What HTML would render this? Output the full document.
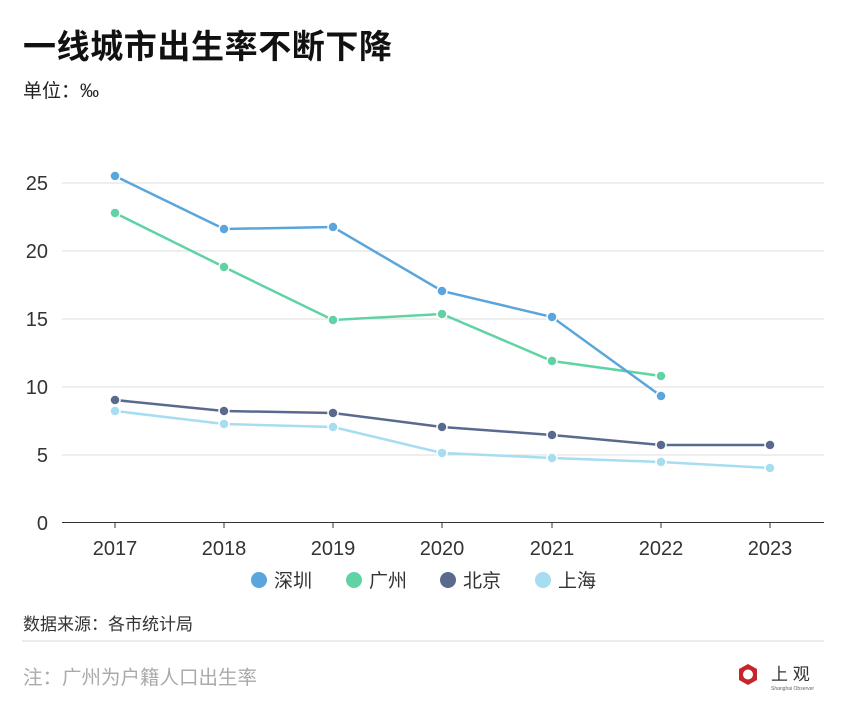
<!DOCTYPE html>
<html><head><meta charset="utf-8"><style>
body{margin:0;background:#fff;width:847px;height:720px;overflow:hidden;font-family:"Liberation Sans","Noto Sans CJK SC",sans-serif}
</style></head><body>
<svg width="847" height="720" xmlns="http://www.w3.org/2000/svg" font-family="Liberation Sans, Noto Sans CJK SC, sans-serif">
<text x="23" y="58" font-size="33" font-weight="bold" fill="#111" letter-spacing="0.6">一线城市出生率不断下降</text>
<text x="23" y="97" font-size="19" fill="#222">单位：‰</text>
<g stroke="#dcdcdc" stroke-width="1">
<line x1="62" x2="824" y1="183" y2="183"/><line x1="62" x2="824" y1="251" y2="251"/><line x1="62" x2="824" y1="319" y2="319"/><line x1="62" x2="824" y1="387" y2="387"/><line x1="62" x2="824" y1="455" y2="455"/>
</g>
<line x1="62" x2="824" y1="522.5" y2="522.5" stroke="#333" stroke-width="1"/>
<g stroke="#333"><line x1="115" x2="115" y1="522" y2="528"/><line x1="224" x2="224" y1="522" y2="528"/><line x1="333" x2="333" y1="522" y2="528"/><line x1="442" x2="442" y1="522" y2="528"/><line x1="552" x2="552" y1="522" y2="528"/><line x1="661" x2="661" y1="522" y2="528"/><line x1="770" x2="770" y1="522" y2="528"/></g>
<g font-size="20" fill="#333" text-anchor="end">
<text x="48" y="190">25</text><text x="48" y="258">20</text><text x="48" y="326">15</text><text x="48" y="394">10</text><text x="48" y="462">5</text><text x="48" y="530">0</text>
</g>
<g font-size="20" fill="#333" text-anchor="middle">
<text x="115" y="555">2017</text><text x="224" y="555">2018</text><text x="333" y="555">2019</text><text x="442" y="555">2020</text><text x="552" y="555">2021</text><text x="661" y="555">2022</text><text x="770" y="555">2023</text>
</g>
<g fill="none" stroke-width="2.5">
<polyline stroke="#a6ddf0" points="115,411 224,424 333,427 442,453 552,458 661,462 770,468"/>
<polyline stroke="#5a6a8e" points="115,400 224,411 333,413 442,427 552,435 661,445 770,445"/>
<polyline stroke="#5fd3a4" points="115,213 224,267 333,320 442,314 552,361 661,376"/>
<polyline stroke="#5aa5dc" points="115,176 224,229 333,227 442,291 552,317 661,396"/>
</g>
<g stroke="#fff" stroke-width="1.5">
<g fill="#a6ddf0"><circle cx="115" cy="411" r="5"/><circle cx="224" cy="424" r="5"/><circle cx="333" cy="427" r="5"/><circle cx="442" cy="453" r="5"/><circle cx="552" cy="458" r="5"/><circle cx="661" cy="462" r="5"/><circle cx="770" cy="468" r="5"/></g>
<g fill="#5a6a8e"><circle cx="115" cy="400" r="5"/><circle cx="224" cy="411" r="5"/><circle cx="333" cy="413" r="5"/><circle cx="442" cy="427" r="5"/><circle cx="552" cy="435" r="5"/><circle cx="661" cy="445" r="5"/><circle cx="770" cy="445" r="5"/></g>
<g fill="#5fd3a4"><circle cx="115" cy="213" r="5"/><circle cx="224" cy="267" r="5"/><circle cx="333" cy="320" r="5"/><circle cx="442" cy="314" r="5"/><circle cx="552" cy="361" r="5"/><circle cx="661" cy="376" r="5"/></g>
<g fill="#5aa5dc"><circle cx="115" cy="176" r="5"/><circle cx="224" cy="229" r="5"/><circle cx="333" cy="227" r="5"/><circle cx="442" cy="291" r="5"/><circle cx="552" cy="317" r="5"/><circle cx="661" cy="396" r="5"/></g>
</g>
<g font-size="19" fill="#333">
<circle cx="259" cy="580" r="8" fill="#5aa5dc"/><text x="274" y="587">深圳</text>
<circle cx="354" cy="580" r="8" fill="#5fd3a4"/><text x="369" y="587">广州</text>
<circle cx="448" cy="580" r="8" fill="#5a6a8e"/><text x="463" y="587">北京</text>
<circle cx="543" cy="580" r="8" fill="#a6ddf0"/><text x="558" y="587">上海</text>
</g>
<text x="23" y="630" font-size="17" fill="#333">数据来源：各市统计局</text>
<line x1="22" x2="824" y1="641" y2="641" stroke="#ececec" stroke-width="2"/>
<text x="23" y="684" font-size="19.5" fill="#aaa">注：广州为户籍人口出生率</text>
<polygon points="748,664 757,669 757,680 748,685 739,680 739,669" fill="#c8242b"/>
<circle cx="748" cy="674.5" r="5" fill="#fff"/>
<text x="771" y="680" font-size="17" fill="#333">上 观</text>
<text x="771" y="690" font-size="5" fill="#666">Shanghai Observer</text>
</svg>
</body></html>
